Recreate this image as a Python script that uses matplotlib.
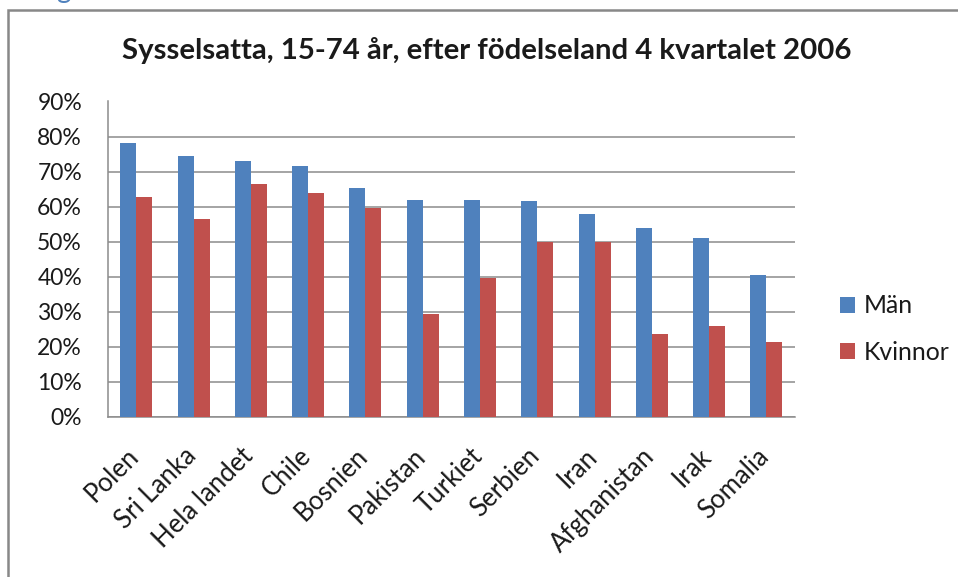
import matplotlib
matplotlib.use('Agg')
import matplotlib.pyplot as plt
from matplotlib.patches import Rectangle
from matplotlib.ticker import FuncFormatter
from matplotlib.transforms import ScaledTranslation
import numpy as np

plt.rcParams['font.family'] = ['Lato', 'DejaVu Sans']

# data (share employed, 15-74 years, Q4 2006)
countries = ['Polen', 'Sri Lanka', 'Hela landet', 'Chile', 'Bosnien', 'Pakistan',
             'Turkiet', 'Serbien', 'Iran', 'Afghanistan', 'Irak', 'Somalia']
man = [0.781, 0.745, 0.729, 0.715, 0.652, 0.620, 0.620, 0.616, 0.579, 0.539, 0.511, 0.405]
kvinnor = [0.628, 0.565, 0.665, 0.639, 0.597, 0.292, 0.397, 0.498, 0.498, 0.237, 0.259, 0.212]
series_names = ['Män', 'Kvinnor']
title = 'Sysselsatta, 15-74 år, efter födelseland 4 kvartalet 2006'

BLUE = '#4F81BD'
RED = '#C0504D'
GRID = '#8c8c8c'
TXT = '#1a1a1a'
W, H = 958, 577

fig = plt.figure(figsize=(W / 100, H / 100), dpi=100)
ax = fig.add_axes([107.7 / W, 1 - 416.7 / H, (795 - 107.7) / W, (416.7 - 101.5) / H])

x = np.arange(len(countries))
bw = 0.28
ax.bar(x - bw / 2, man, bw, color=BLUE, label=series_names[0], zorder=3)
ax.bar(x + bw / 2, kvinnor, bw, color=RED, label=series_names[1], zorder=3)

ax.set_xlim(-0.5, len(countries) - 0.5)
ax.set_ylim(0, 0.9)
ax.set_yticks(np.arange(0, 0.91, 0.1))
ax.yaxis.set_major_formatter(FuncFormatter(lambda v, _: f'{v * 100:.0f}%'))
ax.yaxis.grid(True, color=GRID, lw=1.1, zorder=0)
ax.set_axisbelow(True)

for s in ['top', 'right']:
    ax.spines[s].set_visible(False)
for s in ['left', 'bottom']:
    ax.spines[s].set_color(GRID)
    ax.spines[s].set_linewidth(1.1)

ax.tick_params(axis='y', length=0, pad=18.5, labelsize=16.5, colors=TXT)
ax.tick_params(axis='x', length=0, pad=29.5, labelsize=18.5, colors=TXT)
ax.set_xticks(x)
ax.set_xticklabels(countries, rotation=45, ha='right', va='baseline', rotation_mode='anchor')
# excel puts the end of the rotated label a few px right of the category centre
shift = ScaledTranslation(4 / 100, 0, fig.dpi_scale_trans)
for lab in ax.get_xticklabels():
    lab.set_transform(lab.get_transform() + shift)

fig.text(486.5 / W, 1 - 50 / H, title, ha='center', va='center', fontsize=21.2,
         fontweight='bold', color=TXT)

leg = ax.legend(loc='center left', bbox_to_anchor=(818 / W, 1 - 329 / H),
                bbox_transform=fig.transFigure, frameon=False, fontsize=17.8,
                handlelength=0.6, handleheight=0.6, handletextpad=0.35, labelspacing=0.94)
for t in leg.get_texts():
    t.set_color(TXT)

# chart-area frame (runs off the right and bottom edges) and clipped heading above
fig.add_artist(Rectangle((8 / W, -0.1), 1.2, 1 + 0.1 - 9.5 / H, transform=fig.transFigure,
                         fill=False, edgecolor='#888888', lw=1.8))
fig.text(63 / W, 1 + 2 / H, 'g', ha='center', va='baseline', fontsize=20, color=BLUE)

fig.savefig('out.png', dpi=100)
